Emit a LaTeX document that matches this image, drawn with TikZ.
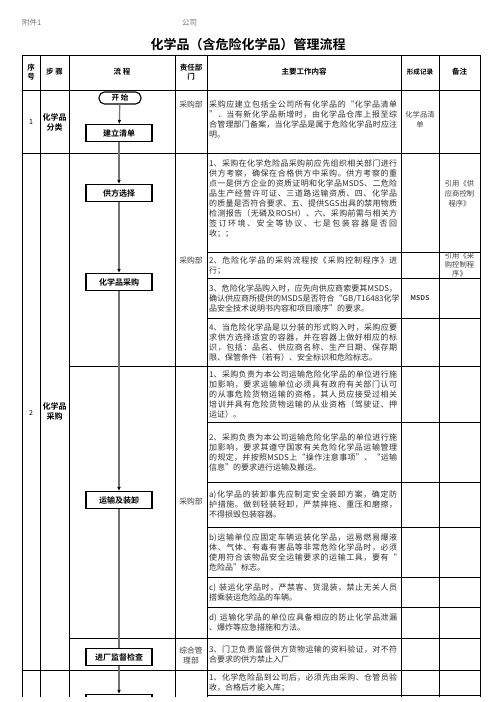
\documentclass[tikz,border=0pt]{standalone}
\usepackage{fontspec}
\setmainfont{Noto Sans CJK SC}[BoldFont={Noto Sans CJK SC Bold}]
\usetikzlibrary{arrows.meta}
\ExplSyntaxOn
\NewDocumentCommand\jl{m}{\makebox[188pt][s]{\tl_map_inline:nn{#1}{##1\hfil}\unskip}}
\ExplSyntaxOff
\begin{document}
\begin{tikzpicture}[x=1pt,y=-1pt,
  tl/.style={line width=0.9pt},
  procbox/.style={draw, fill=white, line width=1.1pt, minimum width=66pt, minimum height=17pt, inner sep=0pt, font=\bfseries\fontsize{8}{9}\selectfont},
  startbox/.style={draw, fill=white, rounded corners=5.5pt, line width=1.1pt, minimum width=42pt, minimum height=12pt, inner sep=0pt, font=\bfseries\fontsize{7.5}{8}\selectfont},
  conn/.style={draw=black!55, line width=1.2pt},
  arr/.style={conn, -{Latex[length=4pt,width=3.6pt,color=black]}},
  content/.style={anchor=west, text width=188pt, align=left, inner sep=0pt, font=\fontsize{8}{10}\selectfont, text=black!82},
  hdr/.style={font=\bfseries\fontsize{7.5}{8.8}\selectfont, align=center, inner sep=0pt},
  steplbl/.style={font=\bfseries\fontsize{8}{10}\selectfont, align=center, inner sep=0pt},
  dept/.style={font=\fontsize{7.8}{10}\selectfont, align=center, inner sep=0pt, text=black!75},
  rec/.style={font=\fontsize{7.3}{10}\selectfont, align=center, inner sep=0pt, text=black!75},
  seqno/.style={font=\fontsize{7}{8}\selectfont, inner sep=0pt},
  toplbl/.style={font=\fontsize{7.5}{8}\selectfont, text=black!55, inner sep=0pt, anchor=west}
]
\useasboundingbox (0,0) rectangle (496,702);
\begin{scope}
\clip (0,0) rectangle (496,696);

% top labels
\node[toplbl] (fj) at (22,23) {附件1};
\node[toplbl] (gs) at (182,23) {公司};
\node[font=\bfseries\fontsize{13}{15}\selectfont, inner sep=0pt] (title) at (248,45) {化学品（含危险化学品）管理流程};

% table vertical lines
\foreach \xx in {22,40,69,175,207,401,439,480}
  \draw[tl] (\xx,55) -- (\xx,702);
% horizontal lines
\foreach \yy in {55,90,153,670}
  \draw[tl] (22,\yy) -- (480,\yy);
\foreach \yy in {366,638}
  \draw[tl] (69,\yy) -- (480,\yy);
\foreach \yy in {252,278,318,422,482,527,577,607,695}
  \draw[tl] (207,\yy) -- (480,\yy);

% header row
\node[hdr] (h1) at (31,72) {序\\号};
\node[hdr] (h2) at (54.5,72) {步\ 骤};
\node[hdr] (h3) at (122,72) {流\ 程};
\node[hdr] (h4) at (191,72) {责任部\\门};
\node[hdr] (h5) at (304,72) {主要工作内容};
\node[hdr, font=\bfseries\fontsize{6.6}{8}\selectfont] (h6) at (420,72) {形成记录};
\node[hdr] (h7) at (459.5,72) {备注};

% row 1
\node[seqno] (s1) at (31,122) {1};
\node[steplbl] (st1) at (54.5,122) {化学品\\分类};
\node[dept] (d1) at (191,105) {采购部};
\node[content] (c1) at (209,119.5) {\jl{采购应建立包括全公司所有化学品的“化学品清单}\\
\jl{”．当有新化学品新增时，由化学品仓库上报至综}\\
\jl{合管理部门备案，当化学品是属于危险化学品时应注}\\
明。};
\node[rec] (r1) at (420,120) {化学品清\\单};

% row 2
\node[seqno] (s2) at (31,413) {2};
\node[steplbl] (st2) at (54.5,411) {化学品\\采购};
\node[dept] (d2) at (191,261) {采购部};
\node[dept] (d3) at (191,502) {采购部};
\node[dept] (d4) at (191,655) {综合管\\理部};

\node[content] (c21) at (209,199) {\jl{{1、}采购在化学危险品采购前应先组织相关部门进行}\\
\jl{供方考察，确保在合格供方中采购。供方考察的重}\\
\jl{点一是供方企业的资质证明和化学品{MSDS}、二危险}\\
\jl{品生产经营许可证、三道路运输资质、四、化学品}\\
\jl{的质量是否符合要求、五、提供{SGS}出具的禁用物质}\\
\jl{检测报告（无磷及{ROSH}）、六、采购前需与相关方}\\
\jl{签订环境、安全等协议、七是包装容器是否回}\\
收；；};
\node[content] (c22) at (209,265.5) {\jl{{2、}危险化学品的采购流程按《采购控制程序》进}\\
行；};
\node[content] (c23) at (209,298) {\jl{{3、}危险化学品购入时，应先向供应商索要其{MSDS}，}\\
\jl{确认供应商所提供的{MSDS}是否符合“{GB/T16483}化学}\\
品安全技术说明书内容和项目顺序”的要求。};
\node[content] (c24) at (209,342) {\jl{{4、}当危险化学品是以分装的形式购入时，采购应要}\\
\jl{求供方选择适宜的容器，并在容器上做好相应的标}\\
\jl{识，包括：品名、供应商名称、生产日期、保存期}\\
限、保管条件（若有）、安全标识和危险标志。};
\node[content] (c25) at (209,394) {\jl{{1、}采购负责为本公司运输危险化学品的单位进行施}\\
\jl{加影响，要求运输单位必须具有政府有关部门认可}\\
\jl{的从事危险货物运输的资格，其人员应接受过相关}\\
\jl{培训并具有危险货物运输的从业资格（驾驶证、押}\\
运证）。};
\node[content] (c26) at (209,452) {\jl{{2、}采购负责为本公司运输危险化学品的单位进行施}\\
\jl{加影响，要求其遵守国家有关危险化学品运输管理}\\
\jl{的规定，并按照{MSDS}上“操作注意事项”、“运输}\\
信息”的要求进行运输及搬运。};
\node[content] (c27) at (209,504.5) {\jl{{a)}化学品的装卸事先应制定安全装卸方案，确定防}\\
\jl{护措施。做到轻装轻卸，严禁摔拖、重压和磨擦，}\\
不得损毁包装容器。};
\node[content] (c28) at (209,552) {\jl{{b)}运输单位应固定车辆运装化学品，运易燃易爆液}\\
\jl{体、气体、有毒有害品等非常危险化学品时，必须}\\
\jl{使用符合该物品安全运输要求的运输工具，要有“}\\
危险品”标志。};
\node[content] (c29) at (209,592) {\jl{{c)~}装运化学品时，严禁客、货混装，禁止无关人员}\\
搭乘装运危险品的车辆。};
\node[content] (c210) at (209,622.5) {\jl{{d)~}运输化学品的单位应具备相应的防止化学品泄漏}\\
、爆炸等应急措施和方法。};
\node[content] (c211) at (209,654.5) {\jl{{3、}门卫负责监督供方货物运输的资料验证，对不符}\\
合要求的供方禁止入厂};
\node[content] (c31) at (209,683) {\jl{{1、}化学危险品到公司后，必须先由采购、仓管员验}\\
收，合格后才能入库；};

\node[rec, font=\bfseries\fontsize{6.8}{8}\selectfont] (r2) at (420,298) {MSDS};
\node[rec] (m1) at (459.5,194) {引用《供\\应商控制\\程序》};
\node[rec, font=\fontsize{7.3}{8.8}\selectfont] (m2) at (459.5,265) {引用《采\\购控制程\\序》};

% flow chart
\node[startbox] (start) at (120,98) {开\ 始};
\node[procbox] (n1) at (119,133) {建立清单};
\node[procbox] (n2) at (119,193) {供方选择};
\node[procbox] (n3) at (119,282) {化学品采购};
\node[procbox] (n4) at (119,500) {运输及装卸};
\node[procbox] (n5) at (119,657) {进厂监督检查};
\node[procbox] (n6) at (119,703) {};

\draw[arr] (start) -- (n1);
\draw[arr] (n1) -- (n2);
\draw[arr] (n2) -- (n3);
\draw[arr] (n3) -- (n4);
\draw[conn] (n4) -- (n5);
\draw[arr] (n5) -- (n6);
\end{scope}
\end{tikzpicture}
\end{document}
